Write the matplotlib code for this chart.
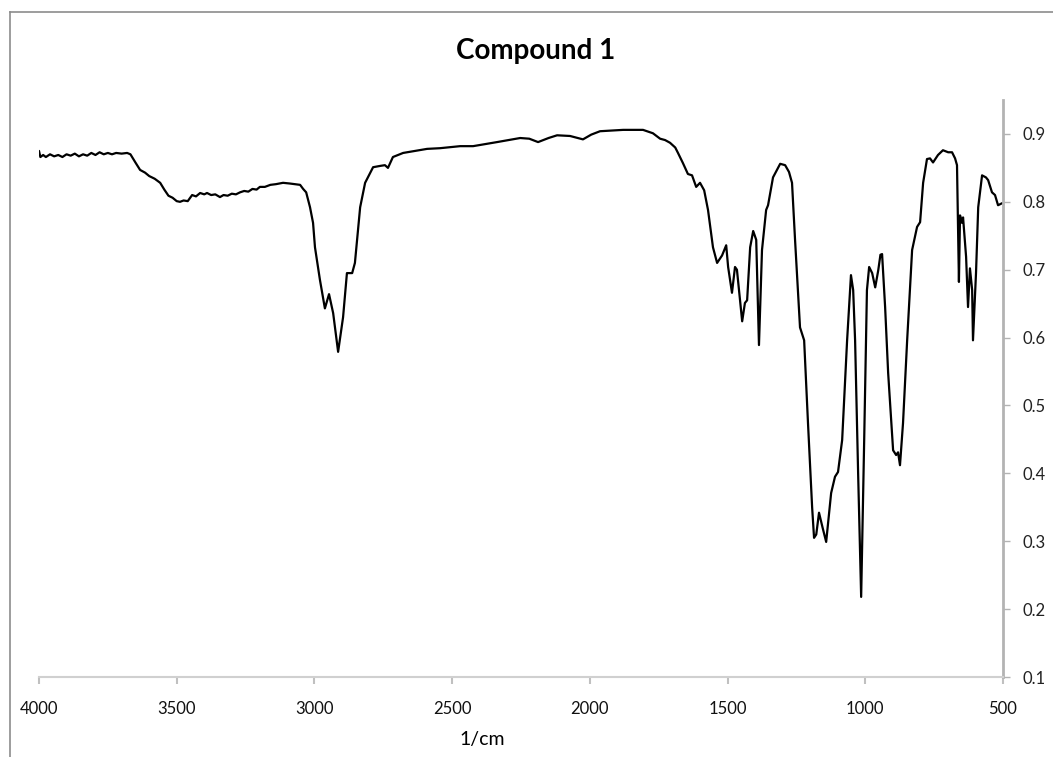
import matplotlib
matplotlib.use("Agg")
import matplotlib.pyplot as plt
from matplotlib.lines import Line2D

# ---- data ----
wavenumber = [4000, 3995, 3985, 3975, 3960, 3945, 3930, 3915, 3900, 3885, 3870, 3855, 3840, 3825,
              3810, 3795, 3780, 3765, 3750, 3735, 3720, 3700, 3680, 3668, 3650, 3633, 3615, 3600,
              3580, 3560, 3545, 3530, 3515, 3500, 3488, 3475, 3460, 3444, 3430, 3415, 3400, 3390,
              3375, 3360, 3343, 3330, 3315, 3300, 3285, 3270, 3255, 3240, 3225, 3210, 3198, 3180,
              3160, 3140, 3114, 3090, 3070, 3052, 3041, 3030, 3016, 3005, 2998, 2980, 2962, 2947,
              2932, 2914, 2896, 2882, 2863, 2853, 2834, 2816, 2787, 2760, 2744, 2733, 2715, 2678,
              2591, 2544, 2471, 2424, 2337, 2253, 2220, 2188, 2150, 2119, 2072, 2025, 1995, 1963,
              1879, 1807, 1771, 1745, 1727, 1709, 1690, 1680, 1662, 1644, 1629, 1614, 1600, 1585,
              1571, 1553, 1538, 1520, 1505, 1498, 1484, 1473, 1466, 1447, 1437, 1429, 1418, 1407,
              1396, 1386, 1375, 1360, 1353, 1335, 1309, 1291, 1277, 1266, 1255, 1237, 1222, 1208,
              1193, 1186, 1178, 1168, 1155, 1142, 1124, 1110, 1099, 1084, 1066, 1052, 1044, 1037,
              1026, 1015, 1004, 994, 986, 975, 964, 953, 945, 939, 928, 917, 899, 888, 881, 874,
              863, 848, 830, 812, 801, 790, 776, 765, 754, 736, 718, 699, 685, 674, 667, 660, 656,
              649, 645, 634, 627, 620, 612, 609, 598, 590, 576, 562, 554, 540, 529, 518, 503]

transmittance = [0.875, 0.866, 0.869, 0.866, 0.870, 0.867, 0.869, 0.866, 0.870, 0.868, 0.871, 0.867,
                 0.870, 0.868, 0.872, 0.869, 0.873, 0.870, 0.872, 0.870, 0.872, 0.871, 0.872, 0.870,
                 0.858, 0.847, 0.843, 0.838, 0.834, 0.828, 0.818, 0.809, 0.806, 0.801, 0.800, 0.802,
                 0.801, 0.810, 0.808, 0.813, 0.811, 0.813, 0.810, 0.811, 0.807, 0.810, 0.809, 0.812,
                 0.811, 0.814, 0.816, 0.815, 0.819, 0.818, 0.822, 0.822, 0.825, 0.826, 0.828, 0.827,
                 0.826, 0.825, 0.819, 0.814, 0.792, 0.769, 0.733, 0.685, 0.643, 0.664, 0.636, 0.579,
                 0.630, 0.695, 0.695, 0.710, 0.792, 0.828, 0.851, 0.853, 0.854, 0.850, 0.866, 0.872,
                 0.878, 0.879, 0.882, 0.882, 0.888, 0.894, 0.893, 0.888, 0.894, 0.898, 0.897, 0.892,
                 0.899, 0.904, 0.906, 0.906, 0.901, 0.893, 0.891, 0.887, 0.880, 0.872, 0.857, 0.841,
                 0.839, 0.822, 0.828, 0.817, 0.788, 0.733, 0.710, 0.721, 0.736, 0.704, 0.666, 0.704,
                 0.700, 0.624, 0.651, 0.655, 0.733, 0.757, 0.744, 0.589, 0.729, 0.788, 0.795, 0.836,
                 0.856, 0.854, 0.844, 0.828, 0.744, 0.615, 0.596, 0.474, 0.350, 0.305, 0.310, 0.342,
                 0.320, 0.299, 0.371, 0.395, 0.402, 0.449, 0.596, 0.692, 0.670, 0.596, 0.400, 0.218,
                 0.449, 0.670, 0.704, 0.695, 0.674, 0.699, 0.722, 0.723, 0.645, 0.548, 0.434, 0.427,
                 0.431, 0.412, 0.474, 0.596, 0.729, 0.763, 0.770, 0.828, 0.863, 0.864, 0.858, 0.869,
                 0.876, 0.873, 0.873, 0.864, 0.854, 0.682, 0.780, 0.769, 0.777, 0.719, 0.645, 0.702,
                 0.670, 0.596, 0.695, 0.792, 0.839, 0.836, 0.832, 0.814, 0.810, 0.795, 0.798]

x_ticks = [4000, 3500, 3000, 2500, 2000, 1500, 1000, 500]
y_ticks = [0.1, 0.2, 0.3, 0.4, 0.5, 0.6, 0.7, 0.8, 0.9]
title = "Compound 1"
x_label = "1/cm"

# ---- figure ----
plt.rcParams['font.family'] = ['Lato', 'DejaVu Sans']
W, H = 1053, 757
fig = plt.figure(figsize=(W / 100, H / 100), dpi=100)
ax = fig.add_axes([39 / W, 1 - 677 / H, (1003 - 39) / W, (677 - 100) / H])

ax.plot(wavenumber, transmittance, color='black', linewidth=1.6,
        solid_joinstyle='round', solid_capstyle='round')

ax.set_xlim(4000, 500)
ax.set_ylim(0.1, 0.95)
ax.set_xticks(x_ticks)
ax.set_xticklabels([str(t) for t in x_ticks])
ax.set_yticks(y_ticks)
ax.set_yticklabels([f"{t:.1f}" for t in y_ticks])

ax.yaxis.tick_right()
for s in ('left', 'top'):
    ax.spines[s].set_visible(False)
ax.spines['right'].set_color('#b3b3b3')
ax.spines['right'].set_linewidth(2.0)
ax.spines['bottom'].set_color('#d0d0d0')
ax.spines['bottom'].set_linewidth(1.5)

ax.tick_params(axis='y', which='both', direction='out', length=5, width=1,
               color='#b3b3b3', labelsize=12, pad=9, labelcolor='#222222',
               left=False, right=True, labelleft=False, labelright=True)
ax.tick_params(axis='x', direction='out', length=5, width=1.5, color='#c0c0c0',
               labelsize=12, pad=12, labelcolor='#111111')

fig.text(536 / W, 1 - 51 / H, title, ha='center', va='center',
         fontsize=20, fontweight='bold', color='black')
fig.text(482 / W, 1 - 740 / H, x_label, ha='center', va='center',
         fontsize=14, color='black')

# chart-area border (top and left edges visible)
fig.add_artist(Line2D([10 / W, 10 / W], [0, 1 - 12 / H], transform=fig.transFigure,
                      color='#8c8c8c', linewidth=1.2))
fig.add_artist(Line2D([10 / W, 1], [1 - 12 / H, 1 - 12 / H], transform=fig.transFigure,
                      color='#8c8c8c', linewidth=1.2))

fig.savefig("out.png", dpi=100)
